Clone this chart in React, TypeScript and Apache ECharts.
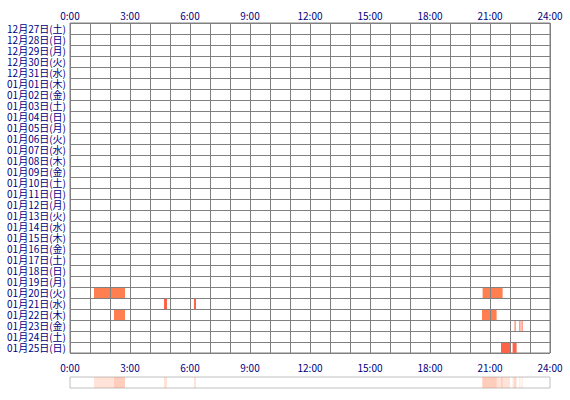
import React, { useEffect, useRef } from "react";
import * as echarts from "echarts";

const dates = [
  "12月27日(土)", "12月28日(日)", "12月29日(月)", "12月30日(火)", "12月31日(水)",
  "01月01日(木)", "01月02日(金)", "01月03日(土)", "01月04日(日)", "01月05日(月)",
  "01月06日(火)", "01月07日(水)", "01月08日(木)", "01月09日(金)", "01月10日(土)",
  "01月11日(日)", "01月12日(月)", "01月13日(火)", "01月14日(水)", "01月15日(木)",
  "01月16日(金)", "01月17日(土)", "01月18日(日)", "01月19日(月)", "01月20日(火)",
  "01月21日(水)", "01月22日(木)", "01月23日(金)", "01月24日(土)", "01月25日(日)",
];

const hourTicks = [0, 3, 6, 9, 12, 15, 18, 21, 24];

// [date, start hour, end hour]
const sessions: [string, number, number][] = [
  ["01月20日(火)", 1.2, 2.75],
  ["01月20日(火)", 20.63, 21.63],
  ["01月21日(水)", 4.7, 4.85],
  ["01月21日(水)", 6.2, 6.3],
  ["01月22日(木)", 2.2, 2.75],
  ["01月22日(木)", 20.6, 21.33],
  ["01月23日(金)", 22.23, 22.28],
  ["01月23日(金)", 22.47, 22.52],
  ["01月23日(金)", 22.58, 22.63],
  ["01月25日(日)", 21.55, 22.0],
  ["01月25日(日)", 22.13, 22.33],
];

const NAVY = "#000080";
const GRIDC = "#808080";
const FONT = "'Noto Sans CJK JP', sans-serif";

export default function App() {
  const ref = useRef<HTMLDivElement>(null);
  useEffect(() => {
    if (!ref.current) return;
    const chart = echarts.init(ref.current, undefined, { renderer: "svg" });
    const data = sessions.map(([d, s, e]) => [dates.indexOf(d), s, e]);
    chart.setOption({
      animation: false,
      textStyle: { fontFamily: FONT },
      grid: [
        { left: 70, right: 20, top: 23, height: 330, show: true, borderColor: GRIDC, borderWidth: 1, backgroundColor: "#fff" },
        { left: 70, right: 20, top: 377, height: 11, show: true, borderColor: "#c0c0c0", borderWidth: 1, backgroundColor: "#fff" },
      ],
      xAxis: [
        {
          gridIndex: 0, type: "value", min: 0, max: 24, interval: 1, position: "top", z: 5,
          axisLine: { show: false }, axisTick: { show: false },
          splitLine: { show: true, lineStyle: { color: GRIDC, width: 1 } },
          axisLabel: {
            showMinLabel: true, showMaxLabel: true,
            formatter: (v: number) => (hourTicks.includes(v) ? `${v}:00` : ""),
            color: NAVY, fontSize: 10, margin: 3, fontFamily: FONT,
          },
        },
        {
          gridIndex: 1, type: "value", min: 0, max: 24, interval: 3, position: "top",
          axisLine: { show: false }, axisTick: { show: false }, splitLine: { show: false },
          axisLabel: {
            showMinLabel: true, showMaxLabel: true,
            formatter: (v: number) => `${v}:00`,
            color: NAVY, fontSize: 10, margin: 5, fontFamily: FONT,
          },
        },
      ],
      yAxis: [
        {
          gridIndex: 0, type: "category", data: dates, inverse: true, z: 5,
          axisLine: { show: false }, axisTick: { show: false },
          splitLine: { show: true, lineStyle: { color: GRIDC, width: 1 } },
          axisLabel: { color: NAVY, fontSize: 10, lineHeight: 11, margin: 4, fontFamily: FONT, interval: 0 },
        },
        { gridIndex: 1, type: "value", min: 0, max: 1, show: false },
      ],
      series: [
        {
          type: "custom", xAxisIndex: 0, yAxisIndex: 0, z: 2,
          encode: { x: [1, 2], y: 0 },
          data,
          renderItem: (params: any, api: any) => {
            const day = api.value(0), s = api.value(1), e = api.value(2);
            const p1 = api.coord([s, day]);
            const p2 = api.coord([e, day]);
            const h = api.size([0, 1])[1];
            return {
              type: "rect",
              shape: { x: p1[0], y: p1[1] - h / 2, width: Math.max(p2[0] - p1[0], 1), height: h },
              style: { fill: e - s < 0.5 ? "#FF6347" : "#FF7F50" },
            };
          },
        },
        {
          type: "custom", xAxisIndex: 1, yAxisIndex: 1,
          encode: { x: [1, 2] },
          data,
          renderItem: (params: any, api: any) => {
            const s = api.value(1), e = api.value(2);
            const p1 = api.coord([s, 1]);
            const p2 = api.coord([e, 0]);
            return {
              type: "rect",
              shape: { x: p1[0], y: p1[1], width: Math.max(p2[0] - p1[0], 1), height: p2[1] - p1[1] },
              style: { fill: "#FF7F50", opacity: 0.22 },
            };
          },
        },
      ],
    });
    return () => chart.dispose();
  }, []);
  return (
    <div
      ref={ref}
      style={{ position: "fixed", left: 0, top: 0, width: 570, height: 400, background: "#fff" }}
    />
  );
}
